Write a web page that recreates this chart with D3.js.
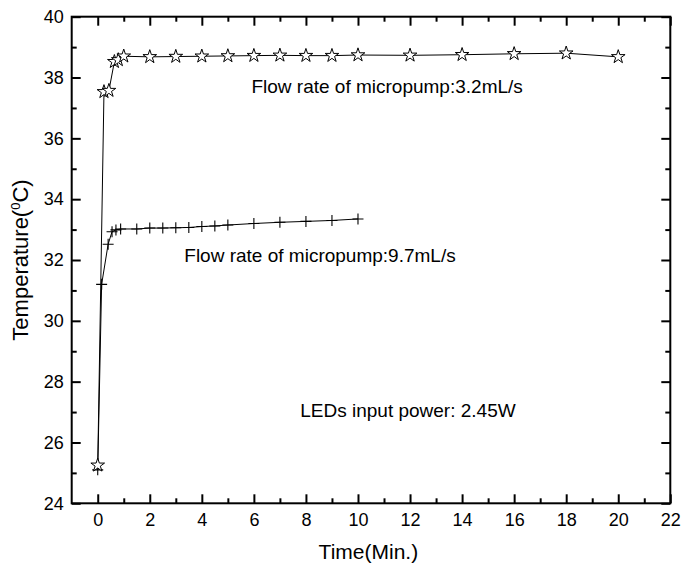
<!DOCTYPE html>
<html>
<head>
<meta charset="utf-8">
<script src="https://cdn.jsdelivr.net/npm/d3@7"></script>
<style>
  html, body { margin: 0; padding: 0; background: #fff; overflow: hidden; }
  svg { display: block; }
  text { font-family: Arial, "Liberation Sans", sans-serif; fill: #000; }
</style>
</head>
<body>
<div id="chart"></div>
<script>
// 3.2 mL/s series (stars)
const slowTime = [0, 0.24, 0.43, 0.64, 0.79, 1, 2, 3, 4, 5, 6, 7, 8, 9, 10, 12, 14, 16, 18, 20]
const slowTemp = [25.25, 37.53, 37.57, 38.52, 38.58, 38.7, 38.68, 38.69, 38.7, 38.71, 38.72, 38.73, 38.72, 38.72, 38.74, 38.73, 38.75, 38.78, 38.8, 38.68]

// 9.7 mL/s series (crosses)
const fastTime = [0, 0.15, 0.4, 0.55, 0.7, 0.88, 1.5, 2, 2.5, 3, 3.5, 4, 4.5, 5, 6, 7, 8, 9, 10]
const fastTemp = [25.1, 31.2, 32.52, 32.93, 32.99, 33.02, 33.02, 33.05, 33.05, 33.06, 33.07, 33.1, 33.12, 33.15, 33.2, 33.24, 33.27, 33.3, 33.35]

const xMajor = [0, 2, 4, 6, 8, 10, 12, 14, 16, 18, 20, 22]
const xMinor = [1, 3, 5, 7, 9, 11, 13, 15, 17, 19, 21]
const yMajor = [24, 26, 28, 30, 32, 34, 36, 38, 40]
const yMinor = [25, 27, 29, 31, 33, 35, 37, 39]

const labels = [
  { text: 'Flow rate of micropump:3.2mL/s', x: 11.12, y: 37.49 },
  { text: 'Flow rate of micropump:9.7mL/s', x: 8.54, y: 31.93 },
  { text: 'LEDs input power: 2.45W', x: 11.92, y: 26.84 }
]

const width = 682
const height = 569
const margin = { top: 16.7, right: 11.7, bottom: 65.7, left: 71.7 }
const innerWidth = width - margin.left - margin.right
const innerHeight = height - margin.top - margin.bottom
const major = 9
const minor = 5

const svg = d3.select('#chart')
  .append('svg')
  .attr('width', width)
  .attr('height', height)

const main = svg.append('g')
  .attr('transform', `translate(${margin.left}, ${margin.top})`)

const xScale = d3.scaleLinear().domain([-1, 22]).range([0, innerWidth])
const yScale = d3.scaleLinear().domain([24, 40]).range([innerHeight, 0])

function drawAxis(axis, transform, showLabels) {
  const g = main.append('g')
    .attr('transform', transform)
    .call(axis)
  g.select('.domain').remove()
  g.selectAll('line').attr('stroke', '#000').attr('stroke-width', 2)
  if (showLabels) {
    g.selectAll('text').attr('font-size', 18).attr('fill', '#000')
  } else {
    g.selectAll('text').remove()
  }
  return g
}

const fmt = d3.format('d')

// bottom
drawAxis(d3.axisBottom(xScale).tickValues(xMajor).tickSize(-major).tickPadding(10).tickFormat(fmt), `translate(0, ${innerHeight})`, true)
drawAxis(d3.axisBottom(xScale).tickValues(xMinor).tickSize(-minor), `translate(0, ${innerHeight})`, false)
// top
drawAxis(d3.axisTop(xScale).tickValues(xMajor).tickSize(-major), 'translate(0, 0)', false)
drawAxis(d3.axisTop(xScale).tickValues(xMinor).tickSize(-minor), 'translate(0, 0)', false)
// left
drawAxis(d3.axisLeft(yScale).tickValues(yMajor).tickSize(-major).tickPadding(8).tickFormat(fmt), 'translate(0, 0)', true)
drawAxis(d3.axisLeft(yScale).tickValues(yMinor).tickSize(-minor), 'translate(0, 0)', false)
// right
drawAxis(d3.axisRight(yScale).tickValues(yMajor).tickSize(-major), `translate(${innerWidth}, 0)`, false)
drawAxis(d3.axisRight(yScale).tickValues(yMinor).tickSize(-minor), `translate(${innerWidth}, 0)`, false)

// frame
main.append('rect')
  .attr('width', innerWidth)
  .attr('height', innerHeight)
  .attr('fill', 'none')
  .attr('stroke', '#000')
  .attr('stroke-width', 2)

const slow = slowTime.map((t, i) => ({ t, v: slowTemp[i] }))
const fast = fastTime.map((t, i) => ({ t, v: fastTemp[i] }))

const line = d3.line()
  .x(d => xScale(d.t))
  .y(d => yScale(d.v))

main.append('path')
  .datum(fast)
  .attr('d', line)
  .attr('fill', 'none')
  .attr('stroke', '#000')
  .attr('stroke-width', 1)

main.append('path')
  .datum(slow)
  .attr('d', line)
  .attr('fill', 'none')
  .attr('stroke', '#000')
  .attr('stroke-width', 1)

// plus markers
main.append('g')
  .selectAll('path')
  .data(fast)
  .enter()
  .append('path')
  .attr('transform', d => `translate(${xScale(d.t)}, ${yScale(d.v)})`)
  .attr('d', 'M-5.5,0H5.5M0,-5.5V5.5')
  .attr('stroke', '#000')
  .attr('stroke-width', 1.1)

// star markers
const star = d3.symbol().type(d3.symbolStar).size(58)
main.append('g')
  .selectAll('path')
  .data(slow)
  .enter()
  .append('path')
  .attr('transform', d => `translate(${xScale(d.t)}, ${yScale(d.v)})`)
  .attr('d', star)
  .attr('fill', '#fff')
  .attr('stroke', '#000')
  .attr('stroke-width', 1)

// annotations
main.append('g')
  .selectAll('text')
  .data(labels)
  .enter()
  .append('text')
  .attr('x', d => xScale(d.x))
  .attr('y', d => yScale(d.y))
  .attr('text-anchor', 'middle')
  .attr('font-size', 19)
  .text(d => d.text)

// axis titles
svg.append('text')
  .attr('x', margin.left + xScale(10.4))
  .attr('y', 559)
  .attr('text-anchor', 'middle')
  .attr('font-size', 21)
  .text('Time(Min.)')

const yTitle = svg.append('text')
  .attr('transform', `translate(28, ${margin.top + yScale(32)}) rotate(-90)`)
  .attr('text-anchor', 'middle')
  .attr('font-size', 22)
yTitle.append('tspan').text('Temperature(')
yTitle.append('tspan').attr('font-size', 13).attr('dy', -8).text('0')
yTitle.append('tspan').attr('dy', 8).text('C)')
</script>
</body>
</html>
